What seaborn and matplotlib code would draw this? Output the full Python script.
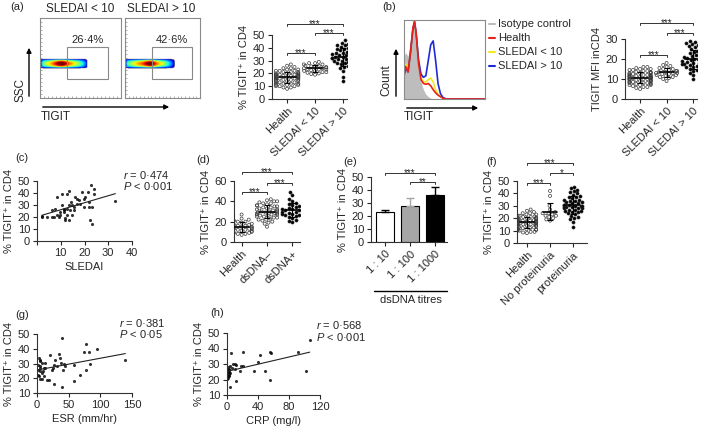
import warnings
import numpy as np
import pandas as pd
import matplotlib
matplotlib.use('Agg')
import matplotlib.pyplot as plt
import seaborn as sns
from matplotlib.patches import Rectangle, FancyArrowPatch
from matplotlib.lines import Line2D
from matplotlib.ticker import MultipleLocator

warnings.filterwarnings('ignore')

W, H = 709, 426

# ---- données ----
# (a) cytométrie : profils de densité du nuage (axe TIGIT et axe SSC)
blob_lo_x = [0.0, 0.03, 0.08, 0.13, 0.18, 0.23, 0.27, 0.32, 0.37, 0.42, 0.47, 0.52, 0.56, 0.58]
blob_lo_i = [0.0, 0.4, 0.55, 0.65, 0.8, 0.95, 1.0, 0.85, 0.7, 0.6, 0.5, 0.35, 0.2, 0.0]
blob_hi_x = [0.0, 0.03, 0.08, 0.13, 0.18, 0.23, 0.28, 0.33, 0.38, 0.43, 0.48, 0.53, 0.58, 0.63, 0.67]
blob_hi_i = [0.0, 0.4, 0.5, 0.6, 0.68, 0.75, 0.88, 1.0, 0.88, 0.7, 0.6, 0.5, 0.35, 0.2, 0.0]
blob_y = [0.37, 0.39, 0.41, 0.43, 0.45, 0.47, 0.49]
blob_y_i = [0.0, 0.6, 0.92, 1.0, 0.92, 0.6, 0.0]
gate_pct = ['26·4%', '42·6%']

# (a) % TIGIT+ in CD4
grp_a = ['Health', 'SLEDAI < 10', 'SLEDAI > 10']
health_a = [8, 9, 9, 10, 10, 11, 11, 11, 12, 12, 12, 13, 13, 13, 14, 14, 14, 15, 15, 15, 15, 16, 16, 16, 16,
            17, 17, 17, 17, 17, 18, 18, 18, 18, 18, 19, 19, 19, 19, 19, 20, 20, 20, 20, 21, 21, 21, 22, 22, 22,
            23, 23, 24, 24, 25, 26, 27, 10, 12, 16]
lo_a = [19, 19.5, 20, 20.5, 21, 21, 22, 22, 22.5, 23, 23, 23.5, 24, 24, 24.5, 25, 25, 25.5, 26, 26, 27, 27, 28, 28, 29]
hi_a = [14, 17, 22, 24, 25, 26, 27, 28, 28, 29, 29, 30, 30, 31, 31, 31, 32, 32, 32, 33, 33, 33, 34, 34, 35, 35,
        36, 36, 37, 37, 38, 39, 39, 40, 41, 42, 42, 43, 44, 46]

# (b) histogramme TIGIT
hist_x = [0, 2, 5, 8, 11, 13, 15, 18, 21, 24, 27, 30, 33, 36, 39, 42, 45, 48, 52, 100]
iso_y = [0.55, 0.6, 0.55, 0.75, 0.95, 0.98, 0.8, 0.4, 0.22, 0.12, 0.06, 0.03, 0.01, 0, 0, 0, 0, 0, 0, 0]
health_y = [0.3, 0.42, 0.35, 0.6, 0.92, 1.0, 0.85, 0.45, 0.25, 0.2, 0.19, 0.2, 0.17, 0.12, 0.08, 0.05, 0.03, 0.01, 0, 0]
lo_y = [0.45, 0.45, 0.38, 0.6, 0.9, 0.98, 0.83, 0.45, 0.27, 0.22, 0.22, 0.25, 0.27, 0.22, 0.12, 0.06, 0.03, 0.01, 0, 0]
hi_y = [0.3, 0.4, 0.35, 0.6, 0.9, 1.0, 0.85, 0.5, 0.32, 0.28, 0.3, 0.5, 0.7, 0.75, 0.5, 0.2, 0.07, 0.02, 0, 0]
hist_names = ['Isotype control', 'Health', 'SLEDAI < 10', 'SLEDAI > 10']
hist_colors = ['#bdbdbd', '#e8221b', '#f5e81c', '#1f2bd6']

# (b) TIGIT MFI in CD4
health_b = [5, 5.5, 6, 6, 6.5, 7, 7, 7.5, 7.5, 8, 8, 8, 8.5, 8.5, 9, 9, 9, 9.5, 9.5, 10, 10, 10, 10, 10.5, 10.5,
            10.5, 11, 11, 11, 11, 11.5, 11.5, 11.5, 12, 12, 12, 12.5, 12.5, 13, 13, 13, 13.5, 13.5, 14, 14, 14.5,
            14.5, 15, 15, 15.5, 16, 16, 9, 10, 11, 12, 8, 7, 13, 10]
lo_b = [9, 10, 10.5, 11, 11, 11.5, 12, 12, 12.5, 12.5, 13, 13, 13, 13.5, 13.5, 14, 14, 14.5, 15, 15, 15.5, 16,
        16.5, 17, 18]
hi_b = [10, 12, 13, 14, 14.5, 15, 15.5, 16, 16, 16.5, 17, 17, 17.5, 17.5, 18, 18, 18.5, 18.5, 19, 19, 19.5, 20,
        20, 20.5, 21, 21, 21.5, 22, 22, 23, 23.5, 24, 25, 26, 26.5, 27, 27.5, 28, 28.5, 29]

# (c) SLEDAI vs TIGIT
sledai_c = [2.1, 2.0, 4.2, 6.3, 6.3, 7.7, 8.4, 9.1, 9.8, 10.5, 10.5, 11.2, 11.2, 11.9, 11.9, 12.6, 12.6, 13.3,
            13.3, 14.0, 14.3, 14.7, 15.4, 16.1, 16.8, 17.5, 18.2, 19.0, 19.6, 20.4, 21.3, 21.8, 22.2, 22.7, 23.2,
            23.2, 23.9, 23.9, 33.0, 11.2, 9.8, 15.4, 14.7, 8.4, 19.6, 21.8, 13.3, 16.8, 12.6, 7.0]
tigit_c = [19.6, 21.0, 20.2, 19.6, 25.7, 27.0, 36.7, 20.0, 21.5, 39.5, 29.8, 25.7, 24.3, 18.8, 17.4, 39.5, 27.0,
           41.7, 17.4, 25.7, 32.6, 29.8, 28.5, 36.7, 35.4, 34.0, 31.2, 40.6, 35.4, 36.7, 40.6, 32.6, 17.4, 47.0,
           28.5, 14.0, 43.6, 39.5, 33.4, 27.0, 24.3, 25.7, 21.5, 21.5, 28.5, 28.5, 29.8, 31.2, 21.5, 20.0]

# (d) dsDNA
grp_d = ['Health', 'dsDNA–', 'dsDNA+']
health_d = [7, 8, 8, 9, 9, 10, 10, 10, 11, 11, 12, 12, 12, 13, 13, 13, 14, 14, 14, 15, 15, 15, 16, 16, 17, 17,
            18, 18, 19, 20, 20, 21, 22, 23, 27]
neg_d = [15, 18, 19, 20, 21, 22, 22, 23, 24, 24, 25, 25, 26, 26, 27, 27, 27, 28, 28, 28, 29, 29, 30, 30, 30, 31,
         31, 32, 32, 33, 33, 34, 34, 35, 35, 36, 36, 37, 38, 38, 39, 40, 40, 41, 42]
pos_d = [20, 21, 22, 24, 25, 26, 27, 27, 28, 28, 29, 29, 30, 30, 30, 31, 31, 32, 32, 33, 33, 34, 35, 36, 37, 38,
         40, 42, 46, 49]

# (e) titres dsDNA
titres = ['1 : 10', '1 : 100', '1 : 1000']
titre_mean = [23, 28, 36]
titre_err = [2, 6, 6]
titre_colors = ['white', '#a6a6a6', 'black']

# (f) protéinurie
grp_f = ['Health', 'No proteinuria', 'proteinuria']
health_f = [8, 8.5, 9, 9, 10, 10, 10.5, 11, 11, 11.5, 12, 12, 12.5, 13, 13, 13.5, 14, 14, 14.5, 15, 15, 15,
            15.5, 16, 16, 16, 16.5, 17, 17, 17, 17.5, 17.5, 18, 18, 18, 18.5, 19, 19, 19, 19.5, 20, 20, 20.5, 21,
            21, 21.5, 22, 22, 23, 23, 24, 24, 25, 26, 27, 11, 14, 18, 20, 16]
noprot_f = [18, 19, 20, 21, 22, 22, 23, 24, 24, 25, 27, 30, 38, 42]
prot_f = [13, 17, 19, 20, 21, 22, 23, 24, 25, 25, 26, 26, 27, 27, 28, 28, 28, 29, 29, 29, 30, 30, 30, 31, 31, 31,
          32, 32, 33, 33, 34, 34, 35, 35, 36, 37, 37, 38, 39, 40, 41, 42, 43, 44, 45]

# (g) ESR
esr_g = [2.6, 4.2, 1.6, 5.3, 7.9, 2.6, 4.2, 7.9, 5.3, 10.5, 13.2, 9.5, 15.8, 18.4, 21.0, 23.7, 26.3, 25.3, 28.9,
         31.6, 34.2, 35.8, 37.9, 39.5, 41.0, 42.1, 44.7, 39.5, 26.3, 57.9, 57.9, 67.4, 73.7, 77.9, 77.9, 81.6,
         83.2, 94.7, 139.5, 1.6, 7.9, 1.0, 4.2, 10.5, 5.3, 13.2]
tigit_g = [33.7, 28.0, 25.8, 31.5, 30.3, 21.3, 19.5, 19.5, 27.0, 27.0, 30.3, 24.7, 19.0, 19.0, 36.0, 25.8, 29.2,
           27.0, 32.6, 28.0, 36.4, 33.7, 30.3, 47.0, 25.8, 29.9, 28.0, 14.0, 16.3, 28.8, 18.0, 22.4, 37.8, 43.0,
           25.4, 37.5, 29.9, 40.0, 32.1, 22.4, 23.6, 29.2, 32.6, 21.8, 24.7, 27.0]

# (h) CRP
crp_h = [0.0, 0.5, 1.0, 1.2, 1.5, 2.0, 2.0, 2.5, 3.0, 3.3, 4.1, 5.0, 6.0, 8.3, 10.0, 10.3, 11.4, 12.0, 16.4, 18.6,
         20.0, 20.6, 34.5, 40.3, 43.0, 48.6, 55.0, 55.0, 56.4, 91.6, 101.5, 106.7, 1.0, 3.0, 4.0]
tigit_h = [20.2, 22.5, 24.0, 28.0, 21.0, 26.2, 23.0, 25.0, 27.0, 24.0, 15.4, 37.0, 27.5, 30.1, 30.1, 26.9, 19.0,
           29.5, 25.2, 28.8, 28.4, 37.7, 25.6, 31.0, 36.0, 25.8, 38.0, 19.7, 37.0, 37.5, 25.8, 45.3, 26.0, 22.0,
           29.0]

YLAB = '% TIGIT\u207a in CD4'

# ---- style ----
sns.set_style('ticks')
plt.rcParams['font.family'] = ['Liberation Sans', 'DejaVu Sans']
plt.rcParams['font.size'] = 8
plt.rcParams['mathtext.fontset'] = 'custom'
plt.rcParams['mathtext.it'] = 'Liberation Sans:italic'
plt.rcParams['mathtext.rm'] = 'Liberation Sans'
plt.rcParams['axes.edgecolor'] = '#333333'
plt.rcParams['axes.linewidth'] = 0.8
plt.rcParams['xtick.major.size'] = 3
plt.rcParams['ytick.major.size'] = 3
plt.rcParams['xtick.major.width'] = 0.8
plt.rcParams['ytick.major.width'] = 0.8
plt.rcParams['xtick.major.pad'] = 2
plt.rcParams['ytick.major.pad'] = 2
plt.rcParams['axes.labelpad'] = 3

fig = plt.figure(figsize=(7.09, 4.26), dpi=100)


def box(l, t, r, b):
    return fig.add_axes([l / W, 1 - b / H, (r - l) / W, (b - t) / H])


def ftext(x, y, s, **kw):
    fig.text(x / W, 1 - y / H, s, **kw)


def farrow(x1, y1, x2, y2):
    fig.add_artist(FancyArrowPatch((x1 / W, 1 - y1 / H), (x2 / W, 1 - y2 / H), transform=fig.transFigure,
                                   arrowstyle='-|>', mutation_scale=7, lw=1, color='black'))


def bracket(ax, x1, x2, y, h, txt):
    ax.plot([x1, x1, x2, x2], [y - h, y, y, y - h], color='#333333', lw=0.7, clip_on=False)
    ax.annotate(txt, ((x1 + x2) / 2, y), xytext=(0, -2.2), textcoords='offset points',
                ha='center', va='baseline', fontsize=7, annotation_clip=False)


def swarm_panel(ax, groups, labels, filled, ylim, ystep, xlim, ylabel):
    df = pd.DataFrame({'grp': np.repeat(labels, [len(g) for g in groups]),
                       'val': np.concatenate(groups)})
    sns.swarmplot(data=df, x='grp', y='val', order=labels, ax=ax, size=2.2, color='black',
                  edgecolor='#222222', linewidth=0.5)
    for coll, f in zip(ax.collections, filled):
        if not f:
            coll.set_facecolor('none')
            coll.set_edgecolor('#3a3a3a')
    for i, g in enumerate(groups):
        m, s = np.mean(g), np.std(g)
        ax.plot([i - 0.3, i + 0.3], [m, m], color='black', lw=1.2, zorder=5)
        ax.errorbar(i, m, yerr=s, color='black', capsize=2, lw=0.8, capthick=0.8, zorder=5)
    ax.set_xlim(*xlim)
    ax.set_ylim(*ylim)
    ax.yaxis.set_major_locator(MultipleLocator(ystep))
    ax.set_xlabel('')
    ax.set_ylabel(ylabel)
    plt.setp(ax.get_xticklabels(), rotation=45, ha='right', rotation_mode='anchor')
    sns.despine(ax=ax)


def reg_panel(ax, x, y, xlim, ylim, xstep, xlabel, hide_zero=False):
    sns.regplot(x=np.array(x), y=np.array(y), ci=None, ax=ax,
                scatter_kws=dict(s=5, color='black', linewidths=0),
                line_kws=dict(color='#222222', lw=0.8))
    ax.set_xlim(*xlim)
    ax.set_ylim(*ylim)
    ax.xaxis.set_major_locator(MultipleLocator(xstep))
    ax.yaxis.set_major_locator(MultipleLocator(10))
    if hide_zero:
        ax.set_xticks(ax.get_xticks())
        ax.set_xticklabels(['' if t == 0 else f'{t:g}' for t in ax.get_xticks()])
        ax.set_xlim(*xlim)
    ax.set_xlabel(xlabel)
    ax.set_ylabel(YLAB)
    sns.despine(ax=ax)


def flow_panel(ax, bx, bi, gate, pct):
    xs = np.linspace(0, 1, 240)
    ys = np.linspace(0, 1, 240)
    zx = np.interp(xs, bx, bi, left=0, right=0)
    zy = np.interp(ys, blob_y, blob_y_i, left=0, right=0)
    z = np.outer(zy, zx)
    z = np.ma.masked_less(z, 0.03)
    ax.imshow(z, origin='lower', extent=(0, 1, 0, 1), cmap='jet', vmin=0.0, vmax=0.9,
              aspect='auto', interpolation='bilinear')
    ax.add_patch(Rectangle((gate[0], 0.24), gate[1] - gate[0], 0.4, fill=False, ec='#888888', lw=0.8))
    ax.text((gate[0] + gate[1]) / 2, 0.66, pct, ha='center', va='bottom', fontsize=8)
    ax.set_xlim(0, 1)
    ax.set_ylim(0, 1)
    for sp in ax.spines.values():
        sp.set_color('#8a8a8a')
        sp.set_linewidth(0.8)
    ax.xaxis.set_major_locator(MultipleLocator(0.05))
    ax.yaxis.set_major_locator(MultipleLocator(0.05))
    ax.tick_params(direction='in', length=1.5, width=0.5, color='#8a8a8a', labelbottom=False, labelleft=False)


# ---- (a) cytométrie ----
ax = box(40, 18, 121, 98)
flow_panel(ax, blob_lo_x, blob_lo_i, (0.33, 0.84), gate_pct[0])
ax = box(125, 18, 200, 98)
flow_panel(ax, blob_hi_x, blob_hi_i, (0.36, 0.89), gate_pct[1])
ftext(80, 9, 'SLEDAI < 10', ha='center', va='center', fontsize=8.5)
ftext(161, 9, 'SLEDAI > 10', ha='center', va='center', fontsize=8.5)
ftext(10, 7, '(a)', ha='left', va='center', fontsize=8)
farrow(29, 99, 29, 45)
farrow(40, 107, 172, 107)
ftext(21, 90, 'SSC', rotation=90, ha='center', va='center', fontsize=8.5)
ftext(41, 117, 'TIGIT', ha='left', va='center', fontsize=8.5)

# ---- (a) % TIGIT+ ----
ax = box(272, 35, 347, 99)
swarm_panel(ax, [health_a, lo_a, hi_a], grp_a, [False, False, True], (0, 50), 10, (-0.54, 2.14), YLAB)
bracket(ax, 0, 2, 58.6, 1.5, '***')
bracket(ax, 1, 2, 51.6, 1.5, '***')
bracket(ax, 0, 1, 35.9, 1.5, '***')

# ---- (b) histogramme ----
ax = box(404, 20, 485, 99)
ax.fill_between(hist_x, iso_y, color=hist_colors[0], lw=0)
for yv, c in zip([lo_y, hi_y, health_y], [hist_colors[2], hist_colors[3], hist_colors[1]]):
    sns.lineplot(x=hist_x, y=yv, color=c, lw=1.2, ax=ax)
ax.set_xlim(0, 100)
ax.set_ylim(0, 1.02)
ax.set_xticks([])
ax.set_yticks([])
for sp in ax.spines.values():
    sp.set_color('#8a8a8a')
    sp.set_linewidth(0.8)
ftext(382, 7, '(b)', ha='left', va='center', fontsize=8)
farrow(396, 99, 396, 46)
farrow(404, 108, 481, 108)
ftext(386, 80, 'Count', rotation=90, ha='center', va='center', fontsize=8.5)
ftext(404, 117, 'TIGIT', ha='left', va='center', fontsize=8.5)
for k, (name, c) in enumerate(zip(hist_names, hist_colors)):
    yy = 24 + 14 * k
    fig.add_artist(Line2D([489 / W, 495 / W], [1 - yy / H] * 2, color=c, lw=1.5, transform=fig.transFigure))
    ftext(498, yy, name, ha='left', va='center', fontsize=8)

# ---- (b) MFI ----
ax = box(625, 39, 697, 99)
swarm_panel(ax, [health_b, lo_b, hi_b], grp_a, [False, False, True], (0, 30), 10, (-0.57, 2.15),
            'TIGIT MFI inCD4')
bracket(ax, 0, 2, 38, 1, '***')
bracket(ax, 1, 2, 33, 1, '***')
bracket(ax, 0, 1, 22, 1, '***')

# ---- (c) ----
ax = box(37, 181, 132, 241)
reg_panel(ax, sledai_c, tigit_c, (0, 40), (0, 50), 10, 'SLEDAI', hide_zero=True)
ftext(22, 158, '(c)', ha='center', va='center', fontsize=8)
ftext(123, 175, r'$r$ = 0·474', ha='left', va='center', fontsize=8)
ftext(123, 186, r'$P$ < 0·001', ha='left', va='center', fontsize=8)

# ---- (d) ----
ax = box(234, 181, 300, 242)
swarm_panel(ax, [health_d, neg_d, pos_d], grp_d, [False, False, True], (0, 60), 20, (-0.3, 2.3), YLAB)
bracket(ax, 0, 2, 69, 2, '***')
bracket(ax, 1, 2, 58, 2, '***')
bracket(ax, 0, 1, 49, 2, '***')
ftext(203, 160, '(d)', ha='center', va='center', fontsize=8)

# ---- (e) ----
ax = box(371, 177, 447, 242)
dfe = pd.DataFrame({'titre': titres, 'val': titre_mean})
sns.barplot(data=dfe, x='titre', y='val', hue='titre', palette=titre_colors, legend=False,
            edgecolor='black', linewidth=0.8, width=0.72, ax=ax)
for i, (m, e, c) in enumerate(zip(titre_mean, titre_err, titre_colors)):
    ec = '#a6a6a6' if c == '#a6a6a6' else 'black'
    ax.errorbar(i, m, yerr=[[0], [e]], color=ec, capsize=3, lw=1, capthick=1, zorder=5)
ax.set_xlim(-0.58, 2.5)
ax.set_ylim(0, 50)
ax.yaxis.set_major_locator(MultipleLocator(10))
ax.set_xlabel('')
ax.set_ylabel(YLAB)
plt.setp(ax.get_xticklabels(), rotation=45, ha='right', rotation_mode='anchor')
sns.despine(ax=ax)
bracket(ax, 0, 2, 53, 1.5, '***')
bracket(ax, 1, 2, 46, 1.5, '**')
ftext(350, 162, '(e)', ha='center', va='center', fontsize=8)
fig.add_artist(Line2D([374 / W, 447 / W], [1 - 291 / H] * 2, color='black', lw=1, transform=fig.transFigure))
ftext(411, 300, 'dsDNA titres', ha='center', va='center', fontsize=8)

# ---- (f) ----
ax = box(517, 181, 587, 243)
swarm_panel(ax, [health_f, noprot_f, prot_f], grp_f, [False, False, True], (0, 50), 10, (-0.43, 2.6), YLAB)
bracket(ax, 0, 2, 64.5, 1.5, '***')
bracket(ax, 1, 2, 56.5, 1.5, '*')
bracket(ax, 0, 1, 48.4, 1.5, '***')
ftext(492, 162, '(f)', ha='center', va='center', fontsize=8)

# ---- (g) ----
ax = box(37, 334, 132, 393)
reg_panel(ax, esr_g, tigit_g, (0, 150), (10, 50), 50, 'ESR (mm/hr)')
ftext(22, 315, '(g)', ha='center', va='center', fontsize=8)
ftext(119, 323, r'$r$ = 0·381', ha='left', va='center', fontsize=8)
ftext(119, 334, r'$P$ < 0·05', ha='left', va='center', fontsize=8)

# ---- (h) ----
ax = box(227, 333, 320, 395)
reg_panel(ax, crp_h, tigit_h, (0, 120), (10, 50), 40, 'CRP (mg/l)')
ftext(217, 313, '(h)', ha='center', va='center', fontsize=8)
ftext(316, 325, r'$r$ = 0·568', ha='left', va='center', fontsize=8)
ftext(316, 337, r'$P$ < 0·001', ha='left', va='center', fontsize=8)

fig.savefig('out.png', dpi=100)
